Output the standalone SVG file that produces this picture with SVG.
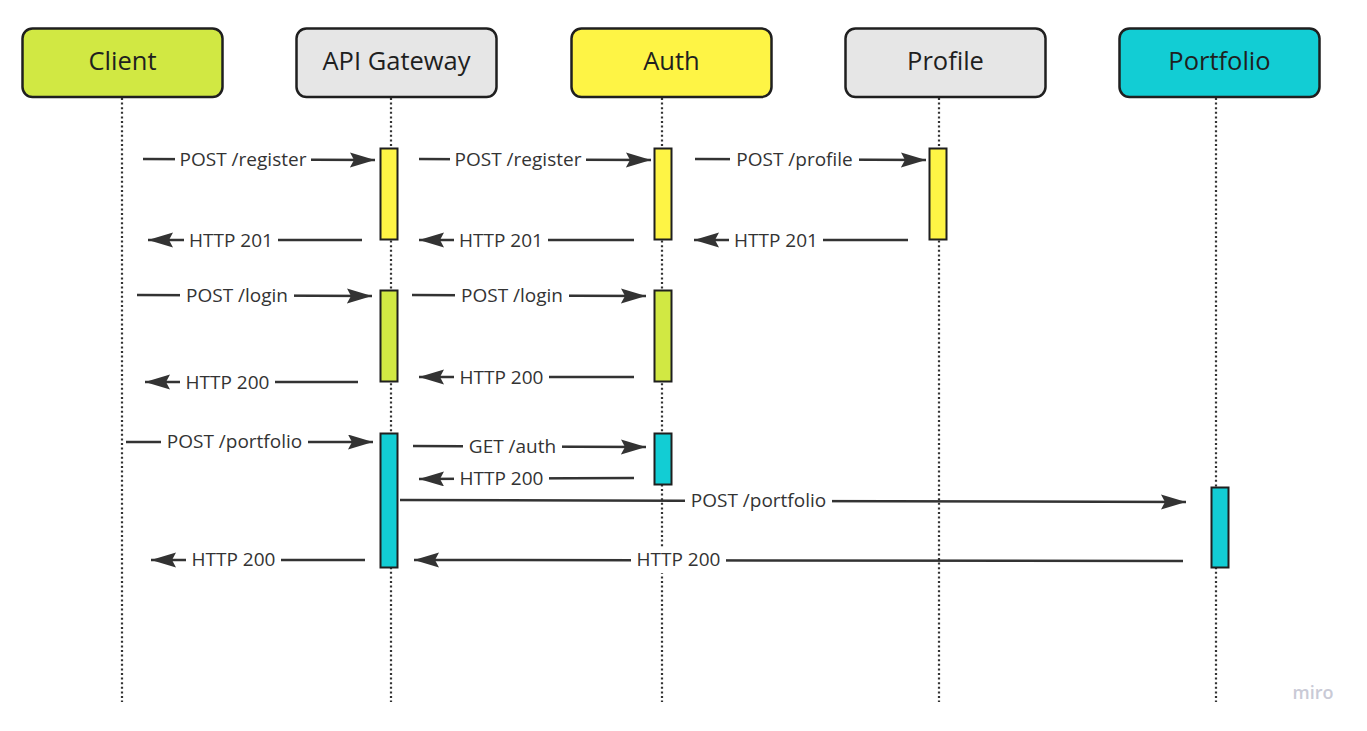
<svg xmlns="http://www.w3.org/2000/svg" width="1367" height="731" viewBox="0 0 1367 731">
<style>
.hdr{stroke:#1f1f1f;stroke-width:2.5}
.hdrt{font-family:"Open Sans","Noto Sans",sans-serif;font-size:25.5px;fill:#1f1f1f;text-anchor:middle}
.life{stroke:#333;stroke-width:2.2;stroke-dasharray:2 2.6;fill:none}
.bar{stroke:#1f1f1f;stroke-width:2}
.msg{stroke:#333;stroke-width:2.5;fill:none}
.lbl{font-family:"Open Sans","Noto Sans",sans-serif;font-size:19px;fill:#333;text-anchor:middle}
.bg{fill:#fff}
.lime{fill:#d1e843}
.grey{fill:#e6e6e6}
.yel{fill:#fef445}
.cyan{fill:#12cdd4}
</style>
<defs>
<marker id="ah" markerUnits="userSpaceOnUse" markerWidth="26" markerHeight="16" refX="25" refY="7.5" orient="auto">
<path d="M0,0 L25,7.5 L0,15 L4,7.5 z" fill="#333"/>
</marker>
</defs>
<rect width="1367" height="731" fill="#fff"/>

<g id="lifelines">
<line class="life" x1="122" y1="98" x2="122" y2="702"/>
<line class="life" x1="391" y1="98" x2="391" y2="702"/>
<line class="life" x1="662" y1="98" x2="662" y2="702"/>
<line class="life" x1="939" y1="98" x2="939" y2="702"/>
<line class="life" x1="1216" y1="98" x2="1216" y2="702"/>
</g>

<g id="client"><rect class="hdr lime" x="22.5" y="28.5" width="200" height="68.5" rx="10"/><text class="hdrt" x="122.5" y="70">Client</text></g>
<g id="gateway"><rect class="hdr grey" x="296.5" y="28.5" width="200" height="68.5" rx="10"/><text class="hdrt" x="396.5" y="70">API Gateway</text></g>
<g id="auth"><rect class="hdr yel" x="571.5" y="28.5" width="200" height="68.5" rx="10"/><text class="hdrt" x="671.5" y="70">Auth</text></g>
<g id="profile"><rect class="hdr grey" x="845.5" y="28.5" width="200" height="68.5" rx="10"/><text class="hdrt" x="945.5" y="70">Profile</text></g>
<g id="portfolio"><rect class="hdr cyan" x="1119.5" y="28.5" width="200" height="68.5" rx="10"/><text class="hdrt" x="1219.5" y="70">Portfolio</text></g>

<g id="activations">
<rect class="bar yel" x="380.5" y="148.5" width="17" height="91"/>
<rect class="bar yel" x="654.5" y="148.5" width="17" height="91"/>
<rect class="bar yel" x="929.5" y="148.5" width="17" height="91"/>
<rect class="bar lime" x="380.5" y="290.5" width="17" height="91"/>
<rect class="bar lime" x="654.5" y="290.5" width="17" height="91"/>
<rect class="bar cyan" x="380.5" y="433.5" width="17" height="134"/>
<rect class="bar cyan" x="654.5" y="433.5" width="17" height="51"/>
<rect class="bar cyan" x="1211.5" y="487.5" width="17" height="80"/>
</g>

<g id="connectors">
<line class="msg" x1="143" y1="159" x2="375" y2="160" marker-end="url(#ah)"/>
<line class="msg" x1="419" y1="159" x2="651" y2="160" marker-end="url(#ah)"/>
<line class="msg" x1="695" y1="159" x2="926" y2="160" marker-end="url(#ah)"/>
<line class="msg" x1="362" y1="240" x2="148" y2="240" marker-end="url(#ah)"/>
<line class="msg" x1="634" y1="240" x2="419" y2="240" marker-end="url(#ah)"/>
<line class="msg" x1="908" y1="240" x2="694" y2="240" marker-end="url(#ah)"/>
<line class="msg" x1="137" y1="295" x2="372" y2="296" marker-end="url(#ah)"/>
<line class="msg" x1="412" y1="295" x2="646" y2="296" marker-end="url(#ah)"/>
<line class="msg" x1="358" y1="382" x2="145" y2="382" marker-end="url(#ah)"/>
<line class="msg" x1="634" y1="377" x2="419" y2="377" marker-end="url(#ah)"/>
<line class="msg" x1="126" y1="442" x2="373" y2="442" marker-end="url(#ah)"/>
<line class="msg" x1="413" y1="446" x2="646" y2="447" marker-end="url(#ah)"/>
<line class="msg" x1="634" y1="478" x2="419" y2="479" marker-end="url(#ah)"/>
<line class="msg" x1="400" y1="500" x2="1186" y2="502" marker-end="url(#ah)"/>
<line class="msg" x1="1183" y1="561" x2="414" y2="560" marker-end="url(#ah)"/>
<line class="msg" x1="365" y1="560" x2="151" y2="560" marker-end="url(#ah)"/>

<rect class="bg" x="175" y="147" width="136" height="26"/><text class="lbl" x="243" y="165.5">POST /register</text>
<rect class="bg" x="450" y="147" width="136" height="26"/><text class="lbl" x="518" y="165.5">POST /register</text>
<rect class="bg" x="730" y="147" width="129" height="26"/><text class="lbl" x="794.5" y="165.5">POST /profile</text>
<rect class="bg" x="184" y="228" width="94" height="26"/><text class="lbl" x="231" y="246.5">HTTP 201</text>
<rect class="bg" x="454" y="228" width="94" height="26"/><text class="lbl" x="501" y="246.5">HTTP 201</text>
<rect class="bg" x="729" y="228" width="94" height="26"/><text class="lbl" x="776" y="246.5">HTTP 201</text>
<rect class="bg" x="180" y="283" width="114" height="26"/><text class="lbl" x="237" y="301.5">POST /login</text>
<rect class="bg" x="455" y="283" width="114" height="26"/><text class="lbl" x="512" y="301.5">POST /login</text>
<rect class="bg" x="180" y="370" width="95" height="26"/><text class="lbl" x="227.5" y="388.5">HTTP 200</text>
<rect class="bg" x="454" y="365" width="95" height="26"/><text class="lbl" x="501.5" y="383.5">HTTP 200</text>
<rect class="bg" x="161" y="429" width="147" height="26"/><text class="lbl" x="234.5" y="447.5">POST /portfolio</text>
<rect class="bg" x="463" y="434" width="99" height="26"/><text class="lbl" x="512.5" y="452.5">GET /auth</text>
<rect class="bg" x="454" y="466" width="95" height="26"/><text class="lbl" x="501.5" y="484.5">HTTP 200</text>
<rect class="bg" x="685" y="488" width="147" height="26"/><text class="lbl" x="758.5" y="506.5">POST /portfolio</text>
<rect class="bg" x="631" y="547" width="95" height="26"/><text class="lbl" x="678.5" y="565.5">HTTP 200</text>
<rect class="bg" x="186" y="547" width="95" height="26"/><text class="lbl" x="233.5" y="566">HTTP 200</text>
</g>

<text x="1313" y="699" font-family="'Open Sans','Noto Sans',sans-serif" font-size="18" font-weight="600" fill="#c9cad6" text-anchor="middle">miro</text>
</svg>
